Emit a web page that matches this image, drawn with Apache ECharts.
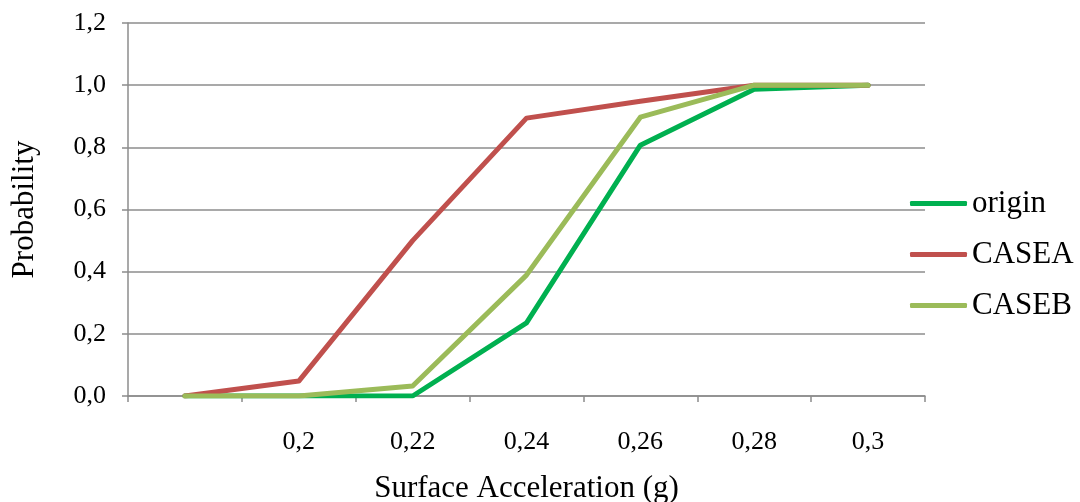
<!DOCTYPE html>
<html><head><meta charset="utf-8">
<script src="https://cdn.jsdelivr.net/npm/echarts@6/dist/echarts.min.js"></script>
<style>html,body{margin:0;padding:0;background:#fff}#c{width:1080px;height:502px}</style>
</head><body><div id="c"></div>
<script>
const categories = ["", "0,2", "0,22", "0,24", "0,26", "0,28", "0,3"];
const origin = [0, 0, 0, 0.235, 0.807, 0.987, 1.0];
const caseA = [0, 0.048, 0.50, 0.894, 0.948, 1.0, 1.0];
const caseB = [0, 0, 0.032, 0.389, 0.897, 1.0, 1.0];
const yTicks = { min: 0, max: 1.2, interval: 0.2 };

const font = "'Liberation Serif', 'DejaVu Serif', serif";
const chart = echarts.init(document.getElementById('c'));
function mk(name, data, color) {
  return { name, type: 'line', data, symbol: 'none', smooth: false,
    lineStyle: { color, width: 5, cap: 'round', join: 'round' }, itemStyle: { color } };
}
chart.setOption({
  animation: false,
  textStyle: { fontFamily: font, color: '#000' },
  grid: { left: 128, right: 155, top: 23, bottom: 106, containLabel: false, outerBoundsMode: 'none' },
  legend: {
    orient: 'vertical', left: 905, top: 183, itemGap: 20,
    itemWidth: 57, itemHeight: 5, icon: 'roundRect',
    textStyle: { fontFamily: font, fontSize: 31, color: '#000' },
    data: ['origin', 'CASEA', 'CASEB']
  },
  xAxis: {
    type: 'category', data: categories, boundaryGap: true,
    name: 'Surface Acceleration (g)', nameLocation: 'middle', nameGap: 77,
    nameTextStyle: { fontFamily: font, fontSize: 31, color: '#000' },
    axisLine: { lineStyle: { color: '#8c8c8c', width: 1.5 } },
    axisTick: { show: true, interval: 0, length: 6, lineStyle: { color: '#8c8c8c', width: 1.5 } },
    axisLabel: { interval: 0, margin: 33, fontFamily: font, fontSize: 26, color: '#000' },
    splitLine: { show: false }
  },
  yAxis: {
    type: 'value', min: yTicks.min, max: yTicks.max, interval: yTicks.interval,
    name: 'Probability', nameLocation: 'middle', nameGap: 88,
    nameTextStyle: { fontFamily: font, fontSize: 31, color: '#000' },
    axisLine: { show: true, lineStyle: { color: '#8c8c8c', width: 1.5 } },
    axisTick: { show: true, length: 6, lineStyle: { color: '#8c8c8c', width: 1.5 } },
    axisLabel: { margin: 22, fontFamily: font, fontSize: 26, color: '#000',
      formatter: v => v.toFixed(1).replace('.', ',') },
    splitLine: { show: true, lineStyle: { color: '#8c8c8c', width: 1.5 } }
  },
  series: [mk('origin', origin, '#00B050'), mk('CASEA', caseA, '#C0504D'), mk('CASEB', caseB, '#9BBB59')]
});
</script></body></html>
